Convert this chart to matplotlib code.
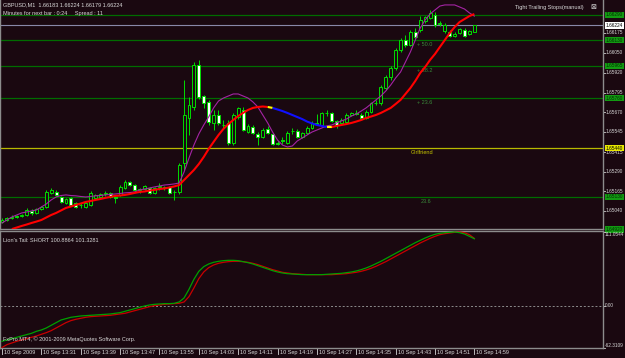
import numpy as np
import matplotlib.pyplot as plt
from matplotlib.transforms import offset_copy

plt.rcParams['font.family'] = ['Liberation Sans', 'DejaVu Sans']

# --- GBPUSD M1 bars, 13:23 .. 14:59 ---
opens = [1.64970, 1.64982, 1.64995, 1.65008, 1.65008, 1.65014, 1.65040, 1.65027, 1.65052, 1.65065,
         1.65155, 1.65161, 1.65129, 1.65091, 1.65123, 1.65091, 1.65078, 1.65065, 1.65078, 1.65123,
         1.65129, 1.65148, 1.65155, 1.65129, 1.65142, 1.65186, 1.65224, 1.65205, 1.65174, 1.65180,
         1.65186, 1.65155, 1.65193, 1.65186, 1.65193, 1.65161, 1.65161, 1.65346, 1.65633, 1.65703,
         1.65971, 1.65773, 1.65735, 1.65601, 1.65652, 1.65588, 1.65601, 1.65473, 1.65639, 1.65684,
         1.65543, 1.65575, 1.65531, 1.65512, 1.65563, 1.65531, 1.65473, 1.65492, 1.65473, 1.65550,
         1.65550, 1.65512, 1.65537, 1.65569, 1.65601, 1.65588, 1.65665, 1.65665, 1.65614, 1.65601,
         1.65607, 1.65652, 1.65665, 1.65652, 1.65633, 1.65671, 1.65728, 1.65728, 1.65824, 1.65894,
         1.65952, 1.66067, 1.66130, 1.66098, 1.66181, 1.66194, 1.66252, 1.66271, 1.66290, 1.66232,
         1.66188, 1.66181, 1.66156, 1.66175, 1.66194, 1.66169, 1.66183]
highs = [1.64995, 1.65001, 1.65014, 1.65014, 1.65021, 1.65059, 1.65052, 1.65059, 1.65072, 1.65174,
         1.65186, 1.65174, 1.65136, 1.65123, 1.65129, 1.65097, 1.65091, 1.65097, 1.65167, 1.65148,
         1.65155, 1.65167, 1.65161, 1.65136, 1.65205, 1.65237, 1.65231, 1.65212, 1.65186, 1.65205,
         1.65193, 1.65193, 1.65218, 1.65199, 1.65199, 1.65174, 1.65346, 1.65875, 1.65767, 1.65990,
         1.66003, 1.65779, 1.65748, 1.65684, 1.65684, 1.65620, 1.65620, 1.65665, 1.65703, 1.65703,
         1.65594, 1.65588, 1.65543, 1.65569, 1.65582, 1.65537, 1.65486, 1.65512, 1.65550, 1.65569,
         1.65563, 1.65543, 1.65582, 1.65614, 1.65658, 1.65671, 1.65684, 1.65671, 1.65620, 1.65633,
         1.65665, 1.65671, 1.65684, 1.65665, 1.65684, 1.65735, 1.65748, 1.65843, 1.65907, 1.65965,
         1.66079, 1.66143, 1.66162, 1.66194, 1.66207, 1.66283, 1.66283, 1.66322, 1.66309, 1.66252,
         1.66239, 1.66194, 1.66181, 1.66207, 1.66207, 1.66194, 1.66224]
lows = [1.64963, 1.64976, 1.64989, 1.64995, 1.65001, 1.65008, 1.65014, 1.65021, 1.65046, 1.65059,
        1.65148, 1.65136, 1.65091, 1.65084, 1.65072, 1.65059, 1.65059, 1.65059, 1.65072, 1.65116,
        1.65123, 1.65136, 1.65123, 1.65091, 1.65136, 1.65180, 1.65199, 1.65167, 1.65155, 1.65174,
        1.65148, 1.65148, 1.65174, 1.65174, 1.65148, 1.65110, 1.65148, 1.65301, 1.65524, 1.65684,
        1.65754, 1.65697, 1.65588, 1.65556, 1.65588, 1.65569, 1.65460, 1.65460, 1.65626, 1.65550,
        1.65537, 1.65531, 1.65460, 1.65505, 1.65531, 1.65460, 1.65460, 1.65467, 1.65467, 1.65531,
        1.65505, 1.65505, 1.65531, 1.65563, 1.65588, 1.65582, 1.65645, 1.65607, 1.65569, 1.65594,
        1.65601, 1.65645, 1.65652, 1.65626, 1.65626, 1.65665, 1.65716, 1.65716, 1.65811, 1.65875,
        1.65939, 1.66054, 1.66086, 1.66092, 1.66137, 1.66181, 1.66239, 1.66264, 1.66213, 1.66220,
        1.66175, 1.66150, 1.66150, 1.66169, 1.66150, 1.66162, 1.66179]
closes = [1.64982, 1.64995, 1.65001, 1.65001, 1.65014, 1.65046, 1.65027, 1.65052, 1.65065, 1.65161,
          1.65174, 1.65142, 1.65097, 1.65116, 1.65078, 1.65065, 1.65080, 1.65091, 1.65155, 1.65142,
          1.65148, 1.65155, 1.65129, 1.65123, 1.65193, 1.65224, 1.65205, 1.65174, 1.65180, 1.65199,
          1.65155, 1.65186, 1.65199, 1.65190, 1.65155, 1.65163, 1.65333, 1.65652, 1.65716, 1.65971,
          1.65767, 1.65728, 1.65607, 1.65652, 1.65601, 1.65590, 1.65473, 1.65652, 1.65697, 1.65556,
          1.65582, 1.65537, 1.65512, 1.65556, 1.65537, 1.65467, 1.65467, 1.65486, 1.65537, 1.65548,
          1.65512, 1.65537, 1.65569, 1.65601, 1.65594, 1.65665, 1.65663, 1.65614, 1.65588, 1.65620,
          1.65652, 1.65665, 1.65658, 1.65633, 1.65671, 1.65728, 1.65726, 1.65830, 1.65894, 1.65952,
          1.66067, 1.66130, 1.66098, 1.66181, 1.66150, 1.66258, 1.66277, 1.66303, 1.66226, 1.66239,
          1.66226, 1.66156, 1.66169, 1.66201, 1.66156, 1.66188, 1.66224]

# thin purple moving average (every bar)
purple_ma = [1.64963, 1.64982, 1.65001, 1.65014, 1.65027, 1.65033, 1.65040, 1.65046, 1.65065, 1.65084,
             1.65110, 1.65129, 1.65138, 1.65142, 1.65138, 1.65136, 1.65132, 1.65129, 1.65132, 1.65136,
             1.65138, 1.65142, 1.65145, 1.65148, 1.65151, 1.65155, 1.65157, 1.65161, 1.65174, 1.65180,
             1.65186, 1.65193, 1.65199, 1.65205, 1.65208, 1.65212, 1.65218, 1.65288, 1.65377, 1.65460,
             1.65531, 1.65588, 1.65639, 1.65697, 1.65741, 1.65760, 1.65773, 1.65786, 1.65786, 1.65773,
             1.65760, 1.65735, 1.65703, 1.65652, 1.65601, 1.65543, 1.65492, 1.65460, 1.65448, 1.65454,
             1.65486, 1.65505, 1.65524, 1.65543, 1.65556, 1.65569, 1.65582, 1.65588, 1.65601, 1.65614,
             1.65626, 1.65645, 1.65658, 1.65677, 1.65697, 1.65722, 1.65748, 1.65773, 1.65805, 1.65843,
             1.65888, 1.65926, 1.65990, 1.66054, 1.66130, 1.66207, 1.66258, 1.66296, 1.66322, 1.66347,
             1.66354, 1.66354, 1.66354, 1.66341, 1.66328, 1.66303, 1.66283]

# thick colour-changing average, starts at bar 2
slow_ma_first_bar = 2
slow_ma = [1.64924, 1.64934, 1.64944, 1.64953, 1.64963, 1.64972, 1.64982, 1.64998, 1.65014, 1.65027,
           1.65043, 1.65059, 1.65068, 1.65078, 1.65087, 1.65097, 1.65103, 1.65110, 1.65116, 1.65123,
           1.65129, 1.65136, 1.65138, 1.65142, 1.65148, 1.65155, 1.65161, 1.65164, 1.65170, 1.65174,
           1.65180, 1.65183, 1.65189, 1.65196, 1.65205, 1.65237, 1.65269, 1.65301, 1.65339, 1.65384,
           1.65435, 1.65480, 1.65524, 1.65563, 1.65594, 1.65620, 1.65645, 1.65665, 1.65684, 1.65697,
           1.65703, 1.65706, 1.65703, 1.65697, 1.65687, 1.65677, 1.65665, 1.65652, 1.65639, 1.65626,
           1.65610, 1.65598, 1.65588, 1.65582, 1.65575, 1.65575, 1.65582, 1.65588, 1.65594, 1.65601,
           1.65610, 1.65620, 1.65633, 1.65642, 1.65652, 1.65665, 1.65681, 1.65697, 1.65722, 1.65748,
           1.65786, 1.65824, 1.65869, 1.65920, 1.65958, 1.66003, 1.66041, 1.66086, 1.66130, 1.66175,
           1.66213, 1.66245, 1.66264, 1.66283, 1.66296]
# (first bar, last bar, colour) of the slow average
slow_ma_parts = [(2, 54, '#ff0000'), (54, 55, '#ffff00'), (55, 66, '#1010ff'),
                 (66, 67, '#ffff00'), (67, 96, '#ff0000')]

# Lion's Tail sub window
lion_green = [-53, -51, -49, -47, -45, -43, -41, -38, -36, -33,
              -29, -25, -21, -19, -17, -16, -15, -14.5, -14, -13.5,
              -13, -12.5, -12, -11, -10, -8, -6, -4, -2, 0,
              1.5, 2.5, 3, 3.5, 3.5, 4, 6, 12, 25, 40,
              52, 59, 63, 65.5, 67, 68, 68.5, 68.5, 68, 66.5,
              65, 63, 60.5, 58, 55.5, 53, 51, 49.5, 48.5, 48,
              47.5, 47, 47, 47, 47, 47, 47.5, 48, 48.5, 49,
              50, 51, 52.5, 54.5, 57, 60, 63.5, 67, 71, 75,
              79, 83, 87, 91, 95, 98.5, 102, 105, 107.5, 109,
              110, 110.5, 111.0, 110, 108, 104.5, 100.8864]
lion_red = [-62.31, -58, -55.5, -53, -51, -49, -47, -45, -42.5, -40,
            -37, -33, -29, -25, -22, -20, -18.5, -17, -16, -15.5,
            -15, -14.5, -14, -13, -12, -11, -9, -7, -5, -3,
            -1, 0.5, 1.5, 2.5, 3, 3.5, 4, 6, 14, 27,
            41, 51, 57.5, 61.5, 64, 65.5, 66.5, 67, 67, 66.5,
            65.5, 64, 62, 59.5, 57, 54.5, 52.5, 50.5, 49.5, 48.5,
            48, 47.5, 47, 47, 47, 47, 47, 47, 47.5, 48,
            48.5, 49.5, 50.5, 52, 54, 56.5, 59.5, 63, 66.5, 70.5,
            74.5, 78.5, 82.5, 86.5, 90.5, 94.5, 98, 101.5, 104.5, 107,
            108.5, 109.5, 110.5, 111.0544, 110, 107, 101.3281]

price_ticks = [1.66175, 1.66050, 1.65920, 1.65795, 1.65670, 1.65545, 1.65415,
               1.65290, 1.65165, 1.65040]
level_prices = [1.66290, 1.66130, 1.65965, 1.65760, 1.65130, 1.64920]
level_names = ['', '+ 50.0', '+ 38.2', '+ 23.6', '23.6', '']
girl_price = 1.65440
bid_price = 1.66224
lion_ticks = [111.0544, 0.0, -62.3109]
time_bars = [0, 8, 16, 24, 32, 40, 48, 56, 64, 72, 80, 88, 96]
time_labels = ['10 Sep 2009', '10 Sep 13:31', '10 Sep 13:39', '10 Sep 13:47', '10 Sep 13:55',
               '10 Sep 14:03', '10 Sep 14:11', '10 Sep 14:19', '10 Sep 14:27', '10 Sep 14:35',
               '10 Sep 14:43', '10 Sep 14:51', '10 Sep 14:59']

# --- look ---
BG = '#1a0810'
FG = '#d8d8d8'
BORDER = '#8c8c8c'
CANDLE = '#00dc00'
LEVEL = '#006c00'
FS = 4.0     # chart texts
FS_AX = 3.4  # right price scale
W, H = 625, 358


def fy(py):
    # pixel row -> figure fraction
    return 1 - py / H


fig = plt.figure(figsize=(W / 100, H / 100), dpi=100)
fig.patch.set_facecolor(BG)

ax = fig.add_axes([0, fy(229), 603 / W, 229 / H])
ax2 = fig.add_axes([0, fy(347.5), 603 / W, 116.5 / H])
for a in (ax, ax2):
    a.set_facecolor(BG)
    a.set_xticks([])
    a.set_yticks([])
    a.set_xlim(-0.41, 122.15)
    for s in a.spines.values():
        s.set_color(BORDER)
        s.set_linewidth(1.0)
ax.spines['top'].set_visible(False)
ax.set_ylim(1.649245, 1.663855)
ax2.set_ylim(-62.31, 112.5)

# --- main window ---
x = np.arange(len(opens))
o = np.array(opens)
c = np.array(closes)

for lv in level_prices:
    ax.axhline(lv, color=LEVEL, lw=0.9, zorder=1)
ax.axhline(girl_price, color='#b8b800', lw=0.9, zorder=1)
ax.axhline(bid_price, color='#8888a8', lw=0.8, zorder=2)

lbl_tr = offset_copy(ax.transData, fig=fig, y=-2, units='dots')
for lv, name in zip(level_prices, level_names):
    if name:
        ax.text(84.3 if name.startswith('+') else 85.0, lv, name, transform=lbl_tr,
                color='#3a8a3a', fontsize=FS, va='top', ha='left', zorder=2)
ax.text(83.0, girl_price, 'Girlfriend', transform=lbl_tr, color='#c8c800',
        fontsize=FS, va='top', ha='left', zorder=2)

ax.vlines(x, lows, highs, color=CANDLE, lw=0.7, zorder=3)
body_col = np.where(c >= o, BG, '#ffffff')
ax.bar(x, np.abs(c - o), bottom=np.minimum(o, c), width=0.6, color=body_col,
       edgecolor=CANDLE, linewidth=0.7, zorder=4)

ax.plot(x, purple_ma, color='#a424a4', lw=0.8, zorder=5)
sx = np.arange(slow_ma_first_bar, slow_ma_first_bar + len(slow_ma))
sv = np.array(slow_ma)
for b0, b1, col in slow_ma_parts:
    i0, i1 = b0 - slow_ma_first_bar, b1 - slow_ma_first_bar + 1
    ax.plot(sx[i0:i1], sv[i0:i1], color=col, lw=1.5, zorder=6, solid_capstyle='butt')

# right price scale
ytr = ax.get_yaxis_transform()
lx = 606 / 603
for v in price_ticks:
    ax.plot([1.0, 1.004], [v, v], color=FG, lw=0.6, transform=ytr, clip_on=False)
    ax.text(lx, v, f'{v:.5f}', transform=ytr, color=FG, fontsize=FS_AX,
            va='center', ha='left', clip_on=False)
box_labels = [(lv, '#003000', '#129a12') for lv in level_prices]
box_labels += [(bid_price, '#000000', '#ffffff'), (girl_price, '#000000', '#e8e800')]
for lv, tc, fc in box_labels:
    ax.text(lx, lv, f'{lv:.5f}', transform=ytr, color=tc, fontsize=FS_AX,
            va='center', ha='left', clip_on=False, zorder=7,
            bbox=dict(boxstyle='square,pad=0.15', fc=fc, ec='none'))

# header texts
fig.text(3 / W, fy(5), 'GBPUSD,M1  1.66183 1.66224 1.66179 1.66224', color=FG,
         fontsize=FS, va='center', ha='left')
fig.text(3 / W, fy(13), 'Minutes for next bar : 0:24     Spread : 11', color=FG,
         fontsize=FS, va='center', ha='left')
fig.text(584 / W, fy(7), 'Tight Trailing Stops(manual)', color=FG, fontsize=FS,
         va='center', ha='right')
fig.text(593 / W, fy(7), '\u22a0', color=FG, fontsize=FS + 1, va='center', ha='center',
         family='DejaVu Sans')

# --- Lion's Tail window ---
ax2.axhline(0, color=BORDER, lw=0.7, linestyle=(0, (2, 2)), zorder=1)
ax2.plot(x, lion_red, color='#c80000', lw=0.9, zorder=3)
ax2.plot(x, lion_green, color='#00a000', lw=0.9, zorder=4)

ytr2 = ax2.get_yaxis_transform()
for v, va in zip(lion_ticks, ['top', 'center', 'bottom']):
    ax2.plot([1.0, 1.004], [v, v], color=FG, lw=0.6, transform=ytr2, clip_on=False)
    ax2.text(605 / 603, v, f'{v:.4f}' if v != 0 else '0.00', transform=ytr2, color=FG,
             fontsize=FS_AX, va=va, ha='left', clip_on=False)

fig.text(3 / W, fy(240), "Lion's Tail: SHORT 100.8864 101.3281", color=FG,
         fontsize=FS, va='center', ha='left')
fig.text(3 / W, fy(339), 'FxPro MT4, \u00a9 2001-2009 MetaQuotes Software Corp.', color=FG,
         fontsize=FS, va='center', ha='left')

# time scale
xtr = ax2.get_xaxis_transform()
xtr_txt = offset_copy(xtr, fig=fig, x=2, units='dots')
for b, t in zip(time_bars, time_labels):
    ax2.plot([b, b], [-0.005, -0.06], color=FG, lw=0.6, transform=xtr, clip_on=False)
    ax2.text(b, -0.045, t, transform=xtr_txt, color=FG, fontsize=FS,
             va='center', ha='left', clip_on=False)

fig.savefig('out.png', dpi=100, facecolor=BG)
